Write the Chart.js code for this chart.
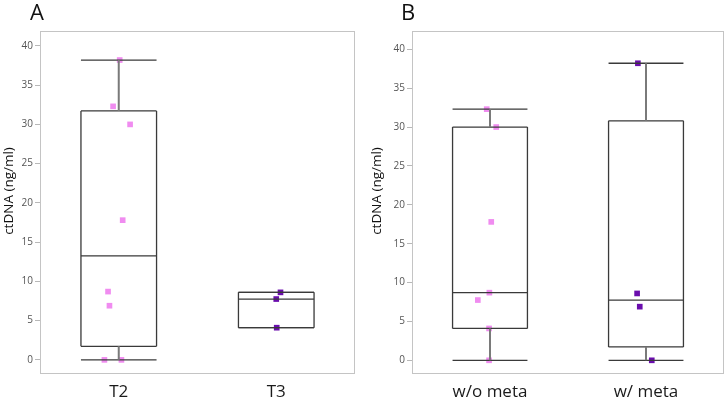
<!DOCTYPE html>
<html>
<head>
<meta charset="utf-8">
<script src="https://cdn.jsdelivr.net/npm/chart.js@4/dist/chart.umd.min.js"></script>
<style>
  html, body { margin: 0; padding: 0; background: #fff; }
  #wrap { position: relative; width: 728px; height: 400px; }
  .panel { position: absolute; top: 0; width: 364px; height: 400px; }
</style>
</head>
<body>
<div id="wrap">
  <div class="panel" style="left:0"><canvas id="chartA" width="364" height="400"></canvas></div>
  <div class="panel" style="left:364px"><canvas id="chartB" width="364" height="400"></canvas></div>
</div>
<script>
"use strict";

// categories
var groupsA = ["T2", "T3"];
var groupsB = ["w/o meta", "w/ meta"];

// individual values (ng/ml) and their horizontal jitter
var pointsT2 = [38.2, 32.3, 30.0, 17.8, 8.7, 6.9, 0, 0];
var jitterT2 = [0.006, -0.036, 0.072, 0.025, -0.068, -0.059, -0.091, 0.017];
var pointsT3 = [8.6, 7.75, 4.1];
var jitterT3 = [0.027, 0, 0.003];
var pointsNoMeta = [32.3, 30.0, 17.8, 8.7, 7.75, 4.1, 0];
var jitterNoMeta = [-0.021, 0.04, 0.008, -0.004, -0.078, -0.006, -0.006];
var pointsMeta = [38.2, 8.6, 6.9, 0];
var jitterMeta = [-0.052, -0.057, -0.04, 0.037];

// box stats: min, q1, median, q3, max
var boxT2 = [0, 1.72, 13.25, 31.72, 38.2];
var boxT3 = [4.1, 4.1, 7.75, 8.6, 8.6];
var boxNoMeta = [0, 4.1, 8.7, 30.0, 32.3];
var boxMeta = [0, 1.72, 7.75, 30.8, 38.2];

// y tick labels
var yTicks = [0, 5, 10, 15, 20, 25, 30, 35, 40];

var PINK = "#f08cf0", PURPLE = "#6a0dad";

function segs(list) {
    var out = [];
    list.forEach(function(s) {
        out.push({x: s[0], y: s[1]}, {x: s[2], y: s[3]}, {x: s[2], y: null});
    });
    return out;
}

function buildDatasets(boxes, points, jitters, colors) {
    var hw = 0.24, whisk = [], caps = [], rect = [], meds = [], ds = [];
    boxes.forEach(function(b, c) {
        whisk.push([c, b[0], c, b[1]], [c, b[3], c, b[4]]);
        caps.push([c - hw, b[0], c + hw, b[0]], [c - hw, b[4], c + hw, b[4]]);
        rect.push([c - hw, b[1], c + hw, b[1]], [c + hw, b[1], c + hw, b[3]],
                  [c + hw, b[3], c - hw, b[3]], [c - hw, b[3], c - hw, b[1]]);
        meds.push([c - hw, b[2], c + hw, b[2]]);
    });
    var line = function(data, color, width) {
        return {type: "scatter", data: segs(data), showLine: true, borderColor: color,
                borderWidth: width, pointRadius: 0, pointHitRadius: 0, spanGaps: false};
    };
    ds.push(line(whisk, "#7a7a7a", 2));
    ds.push(line(rect, "#3a3a3a", 1.3));
    ds.push(line(caps, "#3a3a3a", 1.3));
    ds.push(line(meds, "#3a3a3a", 1.3));
    points.forEach(function(vals, c) {
        ds.push({
            type: "scatter",
            data: vals.map(function(v, i) { return {x: c + jitters[c][i], y: v}; }),
            pointStyle: "rect",
            pointRadius: 4,
            borderWidth: 0,
            backgroundColor: colors[c]
        });
    });
    return ds;
}

var decor = {
    id: "decor",
    afterDraw: function(chart, args, opts) {
        var ctx = chart.ctx, a = chart.chartArea;
        ctx.save();
        ctx.strokeStyle = "#c4c4c4";
        ctx.lineWidth = 1;
        ctx.strokeRect(Math.round(a.left) + 0.5, Math.round(a.top) + 0.5,
                       Math.round(a.right - a.left) - 1, Math.round(a.bottom - a.top) - 1);
        ctx.fillStyle = "#111";
        ctx.font = "22px 'Open Sans'";
        ctx.textBaseline = "alphabetic";
        ctx.fillText(opts.letter, opts.letterX, 20);
        ctx.translate(opts.titleX, 191);
        ctx.rotate(-Math.PI / 2);
        ctx.textAlign = "center";
        ctx.textBaseline = "middle";
        ctx.font = "13.5px 'Open Sans'";
        ctx.fillText("ctDNA (ng/ml)", 0, 0);
        ctx.restore();
    }
};

function makeChart(id, groups, boxes, points, jitters, colors, cfg) {
    return new Chart(document.getElementById(id), {
        data: {datasets: buildDatasets(boxes, points, jitters, colors)},
        plugins: [decor],
        options: {
            responsive: false,
            animation: false,
            devicePixelRatio: 1,
            layout: {padding: {top: 31, right: cfg.padRight, bottom: 0, left: 0}},
            plugins: {
                legend: {display: false},
                tooltip: {enabled: false},
                decor: {letter: cfg.letter, letterX: cfg.letterX, titleX: cfg.titleX}
            },
            scales: {
                x: {
                    type: "linear",
                    min: -0.5,
                    max: 1.5,
                    grid: {display: false, drawTicks: false},
                    border: {display: false},
                    afterBuildTicks: function(axis) {
                        axis.ticks = groups.map(function(g, i) { return {value: i}; });
                    },
                    afterFit: function(s) { s.height = 26; },
                    ticks: {
                        autoSkip: false,
                        maxRotation: 0,
                        padding: 8,
                        color: "#1a1a1a",
                        font: {family: "'Open Sans'", size: 17},
                        callback: function(v) { return groups[v]; }
                    }
                },
                y: {
                    min: cfg.yMin,
                    max: cfg.yMax,
                    grid: {drawOnChartArea: false, color: "#b8b8b8", tickLength: 5},
                    border: {display: false},
                    afterBuildTicks: function(axis) {
                        axis.ticks = yTicks.map(function(v) { return {value: v}; });
                    },
                    afterFit: function(s) { s.width = cfg.yWidth; },
                    ticks: {
                        autoSkip: false,
                        padding: 2,
                        color: "#555",
                        font: {family: "'Open Sans'", size: 10}
                    }
                }
            }
        }
    });
}

makeChart("chartA", groupsA, [boxT2, boxT3], [pointsT2, pointsT3], [jitterT2, jitterT3], [PINK, PURPLE],
    {padRight: 9, yWidth: 40, yMin: -1.8, yMax: 41.9, letter: "A", letterX: 30, titleX: 9});
makeChart("chartB", groupsB, [boxNoMeta, boxMeta], [pointsNoMeta, pointsMeta], [jitterNoMeta, jitterMeta], [PINK, PURPLE],
    {padRight: 2, yWidth: 48, yMin: -1.76, yMax: 42.35, letter: "B", letterX: 37, titleX: 13});
</script>
</body>
</html>
